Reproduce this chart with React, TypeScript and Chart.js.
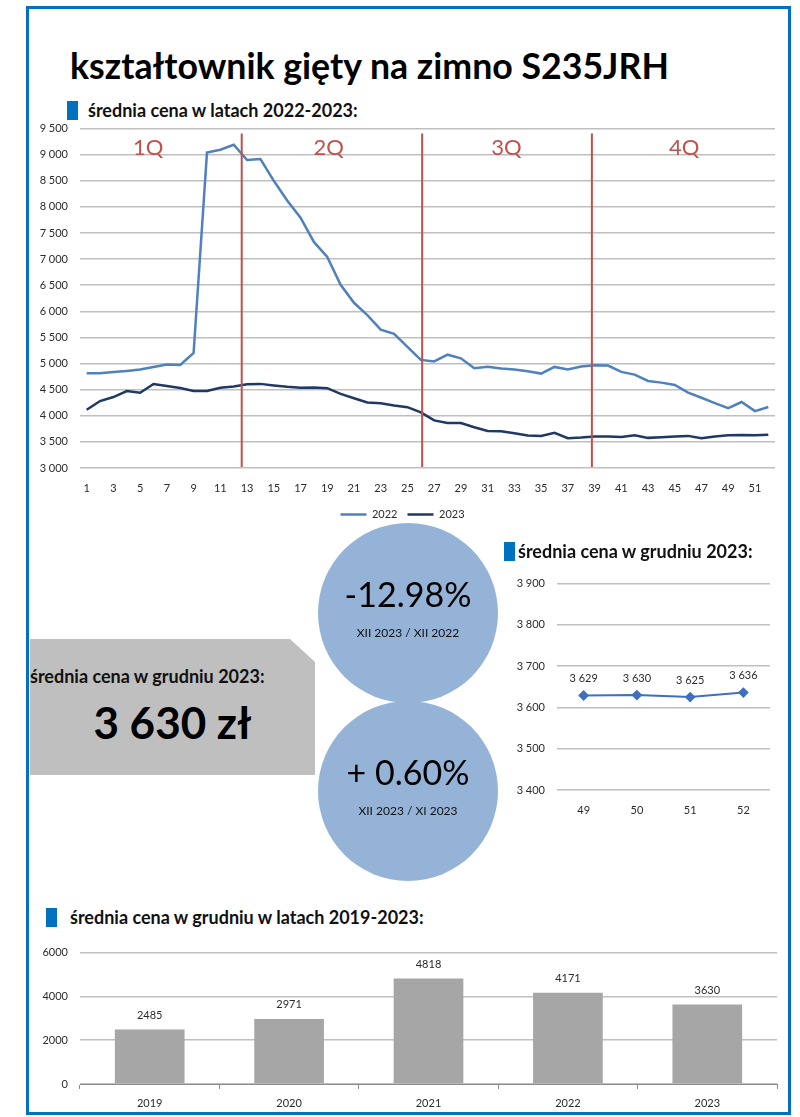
import React, { useEffect, useRef } from 'react';
import { Chart, registerables } from 'chart.js';

Chart.register(...registerables);

const FONT = 'Lato, "Open Sans", "DejaVu Sans", sans-serif';
Chart.defaults.font.family = FONT;

// ---------- data ----------
const weekLabels = [
  '1', '2', '3', '4', '5', '6', '7', '8', '9', '10', '11', '12', '13',
  '14', '15', '16', '17', '18', '19', '20', '21', '22', '23', '24', '25', '26',
  '27', '28', '29', '30', '31', '32', '33', '34', '35', '36', '37', '38', '39',
  '40', '41', '42', '43', '44', '45', '46', '47', '48', '49', '50', '51', '52',
];
const price2022 = [
  4814, 4814, 4840, 4860, 4885, 4936, 4980, 4974, 5205, 9040, 9096, 9190, 8898,
  8917, 8500, 8125, 7794, 7330, 7043, 6508, 6164, 5929, 5650, 5570, 5320, 5070,
  5040, 5170, 5100, 4910, 4940, 4904, 4885, 4853, 4808, 4936, 4885, 4942, 4968,
  4962, 4840, 4788, 4667, 4635, 4590, 4442, 4346, 4244, 4147, 4263, 4090, 4167,
];
const price2023 = [
  4115, 4282, 4359, 4474, 4442, 4609, 4570, 4532, 4474, 4474, 4538, 4560, 4604,
  4611, 4580, 4554, 4535, 4541, 4528, 4420, 4337, 4254, 4242, 4197, 4165, 4064,
  3911, 3860, 3860, 3780, 3710, 3705, 3667, 3622, 3615, 3673, 3570, 3583, 3603,
  3603, 3596, 3628, 3577, 3590, 3603, 3615, 3570, 3603, 3629, 3630, 3625, 3636,
];
const seriesNames = ['2022', '2023'];
// quarter separators / labels, in category-index units (0-based)
const quarterLinePos = [11.6, 25.1, 37.8];
const quarterNames = ['1Q', '2Q', '3Q', '4Q'];
const quarterNamePos = [4.6, 18.1, 31.4, 44.7];

const decWeeks = ['49', '50', '51', '52'];
const decPrices = [3629, 3630, 3625, 3636];

const years = ['2019', '2020', '2021', '2022', '2023'];
const decYearPrices = [2485, 2971, 4818, 4171, 3630];

// ---------- helpers ----------
const fmt = (v: number | string) =>
  String(v).replace(/\B(?=(\d{3})+(?!\d))/g, ' ');
const plain = (v: number | string) => String(v);

const TICK_COLOR = '#2b2b2b';
const GRID_COLOR = '#BFBFBF';

const quarterPlugin = {
  id: 'quarters',
  afterDatasetsDraw(chart: any) {
    const { ctx, chartArea, scales } = chart;
    const x = scales.x;
    ctx.save();
    ctx.strokeStyle = '#C0504D';
    ctx.lineWidth = 2;
    quarterLinePos.forEach((p) => {
      const px = x.getPixelForValue(p);
      ctx.beginPath();
      ctx.moveTo(px, chartArea.top + 5);
      ctx.lineTo(px, chartArea.bottom - 1);
      ctx.stroke();
    });
    ctx.fillStyle = '#C0504D';
    ctx.font = `22px ${FONT}`;
    ctx.textAlign = 'center';
    ctx.textBaseline = 'middle';
    quarterNames.forEach((n, i) => {
      ctx.fillText(n, x.getPixelForValue(quarterNamePos[i]), chartArea.top + 19);
    });
    ctx.restore();
  },
};

const makeValueLabels = (offset: number, format: (v: any) => string) => ({
  id: 'valueLabels',
  afterDatasetsDraw(chart: any) {
    const { ctx } = chart;
    const meta = chart.getDatasetMeta(0);
    const data = chart.data.datasets[0].data;
    ctx.save();
    ctx.fillStyle = '#2b2b2b';
    ctx.font = `11px ${FONT}`;
    ctx.textAlign = 'center';
    ctx.textBaseline = 'middle';
    meta.data.forEach((el: any, i: number) => {
      ctx.fillText(format(data[i]), el.x, el.y - offset);
    });
    ctx.restore();
  },
});

function useChart(ref: React.RefObject<HTMLCanvasElement>, build: () => any) {
  useEffect(() => {
    if (!ref.current) return;
    const chart = new Chart(ref.current, build());
    return () => chart.destroy();
  }, []);
}

const TopChart = () => {
  const ref = useRef<HTMLCanvasElement>(null);
  useChart(ref, () => ({
    type: 'line',
    data: {
      labels: weekLabels,
      datasets: [
        {
          label: seriesNames[0],
          data: price2022,
          borderColor: '#4F81BD',
          backgroundColor: '#4F81BD',
          borderWidth: 2.5,
          pointRadius: 0,
          tension: 0,
        },
        {
          label: seriesNames[1],
          data: price2023,
          borderColor: '#1F3864',
          backgroundColor: '#1F3864',
          borderWidth: 2.5,
          pointRadius: 0,
          tension: 0,
        },
      ],
    },
    options: {
      responsive: false,
      animation: false,
      layout: { padding: { top: 10, right: 15, left: 0, bottom: 0 } },
      plugins: {
        legend: {
          position: 'bottom',
          labels: {
            usePointStyle: true,
            pointStyle: 'line',
            pointStyleWidth: 26,
            boxHeight: 11,
            padding: 10,
            color: '#2b2b2b',
            font: { size: 11 },
          },
        },
        tooltip: { enabled: false },
      },
      scales: {
        x: {
          offset: true,
          grid: { display: false, drawTicks: false, offset: true },
          border: { display: false },
          ticks: {
            autoSkip: false,
            maxRotation: 0,
            padding: 14,
            color: TICK_COLOR,
            font: { size: 11 },
            callback: (_v: any, i: number) => (i % 2 === 0 ? weekLabels[i] : ''),
          },
          afterFit: (s: any) => {
            s.height = 31;
          },
        },
        y: {
          min: 3000,
          max: 9500,
          ticks: { stepSize: 500, padding: 12, color: TICK_COLOR, font: { size: 11 }, callback: fmt },
          grid: { color: GRID_COLOR, lineWidth: 1.5, drawTicks: false },
          border: { display: false },
          afterFit: (s: any) => {
            s.width = 50;
          },
        },
      },
    },
    plugins: [quarterPlugin],
  }));
  return (
    <canvas
      ref={ref}
      width={760}
      height={420}
      style={{ position: 'absolute', left: 30, top: 110, width: 760, height: 420 }}
    />
  );
};

const DecChart = () => {
  const ref = useRef<HTMLCanvasElement>(null);
  useChart(ref, () => ({
    type: 'line',
    data: {
      labels: decWeeks,
      datasets: [
        {
          label: 'grudzień 2023',
          data: decPrices,
          borderColor: '#3F6FBF',
          backgroundColor: '#3F6FBF',
          borderWidth: 2,
          pointStyle: 'rectRot',
          pointRadius: 4,
          tension: 0,
        },
      ],
    },
    options: {
      responsive: false,
      animation: false,
      layout: { padding: { top: 10, right: 10, left: 0, bottom: 0 } },
      plugins: { legend: { display: false }, tooltip: { enabled: false } },
      scales: {
        x: {
          offset: true,
          grid: { display: false, drawTicks: false, offset: true },
          border: { display: false },
          ticks: { padding: 14, color: TICK_COLOR, font: { size: 11 } },
          afterFit: (s: any) => {
            s.height = 32;
          },
        },
        y: {
          min: 3400,
          max: 3900,
          ticks: { stepSize: 100, padding: 12, color: TICK_COLOR, font: { size: 11 }, callback: fmt },
          grid: { color: GRID_COLOR, lineWidth: 1.5, drawTicks: false },
          border: { display: false },
          afterFit: (s: any) => {
            s.width = 57;
          },
        },
      },
    },
    plugins: [makeValueLabels(17, fmt)],
  }));
  return (
    <canvas
      ref={ref}
      width={280}
      height={257}
      style={{ position: 'absolute', left: 500, top: 565, width: 280, height: 257 }}
    />
  );
};

const YearChart = () => {
  const ref = useRef<HTMLCanvasElement>(null);
  useChart(ref, () => ({
    type: 'bar',
    data: {
      labels: years,
      datasets: [
        {
          label: 'grudzień',
          data: decYearPrices,
          backgroundColor: '#A6A6A6',
          barPercentage: 0.5,
          categoryPercentage: 1,
        },
      ],
    },
    options: {
      responsive: false,
      animation: false,
      layout: { padding: { top: 11, right: 10, left: 0, bottom: 0 } },
      plugins: { legend: { display: false }, tooltip: { enabled: false } },
      scales: {
        x: {
          grid: { display: true, drawOnChartArea: false, drawTicks: true, tickLength: 5, color: '#8C8C8C', offset: true },
          border: { display: true, color: '#8C8C8C' },
          ticks: { padding: 8, color: TICK_COLOR, font: { size: 11 } },
          afterFit: (s: any) => {
            s.height = 28;
          },
        },
        y: {
          min: 0,
          max: 6000,
          ticks: { stepSize: 2000, padding: 12, color: TICK_COLOR, font: { size: 11 }, callback: plain },
          grid: { color: GRID_COLOR, lineWidth: 1.5, drawTicks: false },
          border: { display: false },
          afterFit: (s: any) => {
            s.width = 50;
          },
        },
      },
    },
    plugins: [makeValueLabels(14, plain)],
  }));
  return (
    <canvas
      ref={ref}
      width={757}
      height={178}
      style={{ position: 'absolute', left: 30, top: 934, width: 757, height: 178 }}
    />
  );
};

const abs = (s: React.CSSProperties): React.CSSProperties => ({ position: 'absolute', ...s });

const Header = ({ x, tx, y, text }: { x: number; tx: number; y: number; text: string }) => (
  <>
    <div style={abs({ left: x, top: y, width: 11, height: 19, background: '#0070C0' })} />
    <div
      style={abs({
        left: tx,
        top: y - 1,
        height: 21,
        lineHeight: '21px',
        fontSize: 18,
        fontWeight: 700,
        whiteSpace: 'nowrap',
        color: '#111',
      })}
    >
      {text}
    </div>
  </>
);

const Circle = ({ top, big, small }: { top: number; big: string; small: string }) => (
  <div
    style={abs({
      left: 318,
      top,
      width: 180,
      height: 180,
      borderRadius: '50%',
      background: '#95B3D7',
    })}
  >
    <div style={abs({ left: 0, width: 180, top: 51, textAlign: 'center', fontSize: 34, lineHeight: '40px', color: '#000' })}>
      {big}
    </div>
    <div style={abs({ left: 0, width: 180, top: 102, textAlign: 'center', fontSize: 12, lineHeight: '16px', color: '#111' })}>
      {small}
    </div>
  </div>
);

export default function App() {
  return (
    <div
      style={{
        position: 'absolute',
        left: 0,
        top: 0,
        width: 800,
        height: 1117,
        background: '#fff',
        fontFamily: FONT,
        overflow: 'hidden',
      }}
    >
      <div
        style={abs({
          left: 26,
          top: 6,
          width: 765,
          height: 1109,
          border: '3px solid #0070C0',
          boxSizing: 'border-box',
        })}
      />
      <div
        style={abs({
          left: 70,
          top: 48,
          fontSize: 35.7,
          lineHeight: 1,
          fontWeight: 700,
          whiteSpace: 'nowrap',
          color: '#000',
        })}
      >
        kształtownik gięty na zimno S235JRH
      </div>
      <Header x={67} tx={88} y={101} text="średnia cena w latach 2022-2023:" />
      <TopChart />

      <div
        style={abs({
          left: 30,
          top: 639,
          width: 285,
          height: 136,
          background: '#BFBFBF',
          clipPath: 'polygon(0 0, 260px 0, 285px 23px, 285px 136px, 0 136px)',
        })}
      >
        <div style={abs({ left: 0, top: 26, fontSize: 18, fontWeight: 700, lineHeight: '22px', whiteSpace: 'nowrap', color: '#111' })}>
          średnia cena w grudniu 2023:
        </div>
        <div style={abs({ left: 0, width: 285, top: 56, textAlign: 'center', fontSize: 44, fontWeight: 700, lineHeight: '54px', color: '#000' })}>
          3 630 zł
        </div>
      </div>

      <Circle top={523} big="-12.98%" small="XII 2023 / XII 2022" />
      <Circle top={701} big="+ 0.60%" small="XII 2023 / XI 2023" />

      <Header x={504} tx={518} y={542} text="średnia cena w grudniu 2023:" />
      <DecChart />

      <Header x={46} tx={70} y={908} text="średnia cena w grudniu w latach 2019-2023:" />
      <YearChart />
    </div>
  );
}
